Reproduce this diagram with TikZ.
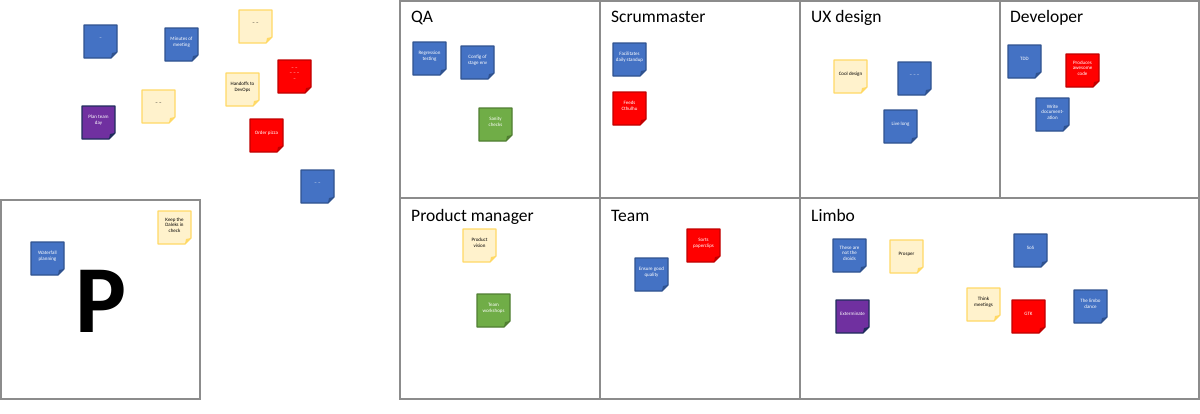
\documentclass[tikz,border=0pt]{standalone}
\usepackage{fontspec}
\setmainfont{Carlito}
\definecolor{bluefill}{HTML}{4472C4}
\definecolor{blueline}{HTML}{2F528F}
\definecolor{bluetext}{HTML}{FFFFFF}
\definecolor{yellowfill}{HTML}{FFF2CC}
\definecolor{yellowline}{HTML}{FFD966}
\definecolor{yellowtext}{HTML}{000000}
\definecolor{redfill}{HTML}{FF0000}
\definecolor{redline}{HTML}{C00000}
\definecolor{redtext}{HTML}{FFFFFF}
\definecolor{purplefill}{HTML}{7030A0}
\definecolor{purpleline}{HTML}{1F2D5C}
\definecolor{purpletext}{HTML}{FFFFFF}
\definecolor{greenfill}{HTML}{70AD47}
\definecolor{greenline}{HTML}{507E32}
\definecolor{greentext}{HTML}{FFFFFF}
\definecolor{gridgray}{HTML}{8C8C8C}
\tikzset{
  notetext/.style={font=\fontsize{5}{5.6}\selectfont, align=center, inner sep=0pt},
  celltitle/.style={font=\fontsize{17.5}{20}\selectfont, anchor=base west, inner sep=0pt},
  gridline/.style={draw=gridgray, line width=1.5pt},
}
\newcommand\stick[5]{%
  \filldraw[draw=#4line, fill=#4fill, line width=1.2pt, line join=round] (#2,#3) -- ++(33,0) -- ++(0,27) -- ++(-6,6) -- ++(-27,0) -- cycle;
  \fill[#4line] ({#2+33},{#3+27}) -- ++(-6,6) -- ++(1,-5) -- cycle;
  \node[notetext, text=#4text] (#1) at ({#2+16.5},{#3+14}) {#5};
}
\begin{document}
\begin{tikzpicture}[x=1pt,y=-1pt]
\useasboundingbox (0,0) rectangle (1200,413);
% grid
\draw[gridline] (400,1) rectangle (1199,399);
\draw[gridline] (400,198) -- (1199,198);
\draw[gridline] (600,1) -- (600,399);
\draw[gridline] (800,1) -- (800,399);
\draw[gridline] (1000,1) -- (1000,198);
\draw[gridline] (1,200) rectangle (200,399);
% titles
\node[celltitle] (tqa) at (411,22) {QA};
\node[celltitle] (tsm) at (611,22) {Scrummaster};
\node[celltitle] (tux) at (811,22) {UX design};
\node[celltitle] (tdev) at (1010,22) {Developer};
\node[celltitle] (tpm) at (411,221) {Product manager};
\node[celltitle] (tteam) at (611,221) {Team};
\node[celltitle] (tlimbo) at (811,221) {Limbo};
% big P
\node[font=\fontsize{96}{96}\selectfont\bfseries, inner sep=0pt] (bigp) at (101,301) {P};
% free notes
\stick{f1}{84}{25}{blue}{–}
\stick{f2}{165}{28}{blue}{Minutes of\\meeting}
\stick{f3}{239}{10}{yellow}{– –}
\stick{f4}{278}{60}{red}{– –\\– – –\\–}
\stick{f5}{226}{73}{yellow}{Handoffs to\\DevOps}
\stick{f6}{142}{90}{yellow}{– –}
\stick{f7}{82}{106}{purple}{Plan team\\day}
\stick{f8}{250}{119}{red}{Order pizza}
\stick{f9}{301}{170}{blue}{– –}
% left box
\stick{p1}{31}{242}{blue}{Waterfall\\planning}
\stick{p2}{158}{211}{yellow}{Keep the\\Daleks in\\check}
% QA
\stick{q1}{413}{42}{blue}{Regression\\testing}
\stick{q2}{461}{46}{blue}{Config of\\stage env}
\stick{q3}{479}{108}{green}{Sanity\\checks}
% Scrummaster
\stick{s1}{613}{43}{blue}{Facilitates\\daily standup}
\stick{s2}{613}{92}{red}{Feeds\\Cthulhu}
% UX
\stick{u1}{834}{60}{yellow}{Cool design}
\stick{u2}{898}{62}{blue}{– – –}
\stick{u3}{884}{110}{blue}{Live long}
% Developer
\stick{d1}{1008}{45}{blue}{TDD}
\stick{d2}{1066}{54}{red}{Produces\\awesome\\code}
\stick{d3}{1036}{98}{blue}{Write\\document-\\ation}
% Product manager
\stick{m1}{463}{229}{yellow}{Product\\vision}
\stick{m2}{477}{294}{green}{Team\\workshops}
% Team
\stick{t1}{687}{229}{red}{Sorts\\paperclips}
\stick{t2}{635}{258}{blue}{Ensure good\\quality}
% Limbo
\stick{l1}{833}{239}{blue}{These are\\not the\\droids}
\stick{l2}{890}{240}{yellow}{Prosper}
\stick{l3}{1014}{234}{blue}{SoS}
\stick{l4}{836}{300}{purple}{Exterminate}
\stick{l5}{967}{288}{yellow}{Think\\meetings}
\stick{l6}{1012}{300}{red}{GTK}
\stick{l7}{1074}{290}{blue}{The limbo\\dance}
\end{tikzpicture}
\end{document}
